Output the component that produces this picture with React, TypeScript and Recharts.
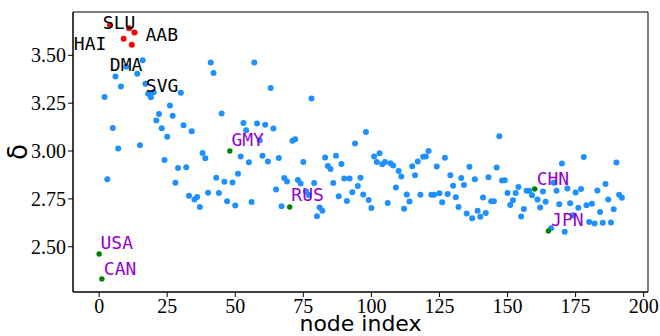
import * as React from 'react';
import { ScatterChart, Scatter, XAxis, YAxis, ReferenceArea } from 'recharts';

// delta value per node, index = node index
const delta: number[] = [
  2.462, 2.332, 3.282, 2.853, 3.658, 3.120, 3.389, 3.013, 3.337, 3.587,
  3.441, 3.642, 3.556, 3.620, 3.404, 3.030, 3.475, 3.351, 3.300, 3.281,
  3.307, 3.159, 3.193, 3.119, 2.953, 3.075, 3.238, 3.185, 2.834, 2.911,
  3.305, 3.135, 2.915, 2.767, 3.103, 2.747, 2.760, 2.708, 2.990, 2.962,
  2.782, 3.462, 3.408, 2.861, 2.781, 3.196, 2.840, 2.738, 3.000, 2.836,
  2.716, 2.881, 2.972, 3.147, 3.109, 2.942, 2.734, 3.462, 3.144, 3.056,
  2.976, 3.138, 2.946, 3.330, 3.118, 2.799, 2.964, 2.712, 2.859, 2.841,
  2.708, 3.054, 3.061, 2.849, 2.830, 2.943, 2.790, 2.770, 3.274, 2.833,
  2.659, 2.705, 2.688, 2.966, 2.922, 2.906, 2.833, 2.976, 2.764, 2.932,
  2.857, 2.739, 2.857, 2.785, 3.039, 2.818, 2.861, 2.773, 3.099, 2.744,
  2.703, 2.972, 2.943, 2.988, 2.931, 2.943, 2.729, 2.936, 2.924, 2.809,
  2.896, 2.867, 2.698, 2.773, 2.736, 2.920, 2.873, 2.946, 2.772, 2.970,
  2.972, 3.000, 2.771, 2.771, 2.919, 2.780, 2.732, 2.965, 2.776, 2.873,
  2.819, 2.759, 2.708, 2.859, 2.823, 2.674, 2.918, 2.649, 2.852, 2.688,
  2.657, 2.757, 2.676, 2.863, 2.738, 2.738, 2.914, 3.077, 2.846, 2.847,
  2.781, 2.718, 2.743, 2.781, 2.812, 2.658, 2.697, 2.792, 2.792, 2.769,
  2.802, 2.747, 2.705, 2.789, 2.735, 2.582, 2.597, 2.834, 2.793, 2.722,
  2.935, 2.578, 2.804, 2.727, 2.665, 2.784, 2.704, 2.802, 2.969, 2.717,
  2.629, 2.724, 2.622, 2.794, 2.682, 2.625, 2.828, 2.747, 2.627, 2.696,
  2.940, 2.771, 2.756,
];

const redNodes = [4, 9, 11, 12, 13];
const greenNodes = [0, 1, 48, 70, 160, 165];

// label text and where its baseline-left sits, in data units
const blackLabels = ['SLU', 'HAI', 'AAB', 'DMA', 'SVG'];
const blackLabelX = [1.36, -9.28, 17.03, 3.93, 17.14];
const blackLabelY = [3.639, 3.530, 3.574, 3.420, 3.308];

const purpleLabels = ['GMY', 'RUS', 'USA', 'CAN', 'CHN', 'JPN'];
const purpleLabelX = [48.59, 70.61, 0.51, 1.72, 160.7, 166.0];
const purpleLabelY = [3.024, 2.738, 2.488, 2.353, 2.821, 2.608];

const xTicks = [0, 25, 50, 75, 100, 125, 150, 175, 200];
const yTicks = [2.5, 2.75, 3.0, 3.25, 3.5];

const X_DOMAIN: [number, number] = [-9.6, 201.6];
const Y_DOMAIN: [number, number] = [2.2635, 3.7265];

const points = delta.map((d, i) => ({ x: i, y: d }));
const bluePts = points.filter(p => !redNodes.includes(p.x) && !greenNodes.includes(p.x));
const redPts = points.filter(p => redNodes.includes(p.x));
const greenPts = points.filter(p => greenNodes.includes(p.x));

const labelPts = [
  ...blackLabels.map((t, i) => ({ x: blackLabelX[i], y: blackLabelY[i], text: t, color: '#000000' })),
  ...purpleLabels.map((t, i) => ({ x: purpleLabelX[i], y: purpleLabelY[i], text: t, color: '#9400D3' })),
];

const dot = (color: string, r: number) => (p: any) =>
  <circle cx={p.cx} cy={p.cy} r={r} fill={color} />;

const labelShape = (p: any) => (
  <text x={p.cx} y={p.cy} fill={p.payload.color} fontSize={18}
    fontFamily="'DejaVu Sans Mono', monospace">{p.payload.text}</text>
);

const tickFont = { fontFamily: "'Liberation Serif', 'Times New Roman', serif", fontSize: 20, fill: '#000' };
const labelFont = "'DejaVu Sans', sans-serif";

const xLabel = (props: any) => {
  const vb = props.viewBox;
  return (
    <text x={vb.x + vb.width / 2} y={331} textAnchor="middle" fontSize={22}
      fontFamily={labelFont} fill="#000">node index</text>
  );
};

const yLabel = (props: any) => {
  const vb = props.viewBox;
  const cx = 18;
  const cy = vb.y + vb.height / 2;
  return (
    <text x={cx} y={cy} transform={`rotate(-90, ${cx}, ${cy})`} textAnchor="middle"
      dominantBaseline="central" fontSize={26} fontFamily={labelFont} fill="#000">δ</text>
  );
};

export default function App() {
  return (
    <div style={{ position: 'absolute', left: 0, top: 0, background: '#fff' }}>
      <ScatterChart width={660} height={336} margin={{ top: 12, right: 12, left: 0, bottom: 0 }}>
        <XAxis type="number" dataKey="x" domain={X_DOMAIN} ticks={xTicks} allowDataOverflow
          height={44} tickSize={5} tick={tickFont} stroke="#000" label={{ content: xLabel }} />
        <YAxis type="number" dataKey="y" domain={Y_DOMAIN} ticks={yTicks} allowDataOverflow
          width={73} tickSize={5} tick={tickFont} stroke="#000"
          tickFormatter={(v: number) => v.toFixed(2)} label={{ content: yLabel }} />
        <ReferenceArea x1={X_DOMAIN[0]} x2={X_DOMAIN[1]} y1={Y_DOMAIN[0]} y2={Y_DOMAIN[1]}
          fill="none" stroke="#000" strokeWidth={1} />
        <Scatter data={bluePts} shape={dot('#1E90FF', 3)} isAnimationActive={false} />
        <Scatter data={redPts} shape={dot('#FF0000', 3)} isAnimationActive={false} />
        <Scatter data={greenPts} shape={dot('#008000', 2.7)} isAnimationActive={false} />
        <Scatter data={labelPts} shape={labelShape} isAnimationActive={false} />
      </ScatterChart>
    </div>
  );
}
